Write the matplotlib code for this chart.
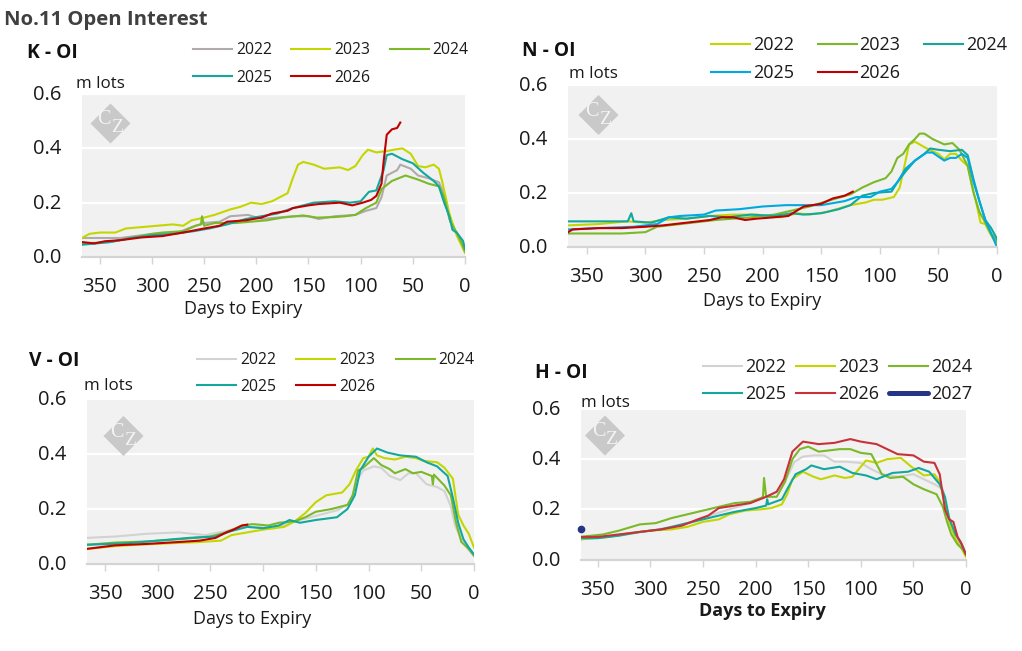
#!/usr/bin/env python3
import matplotlib
matplotlib.use('Agg')
import matplotlib.pyplot as plt
from matplotlib.patches import Polygon
from matplotlib.transforms import ScaledTranslation

plt.rcParams['font.family'] = ['Open Sans', 'DejaVu Sans']

W, H = 1022, 651

# colours
grey = '#b0aaaa'
pale = '#d2d2d2'
yellow = '#c4d600'
green = '#7ab929'
teal = '#12a89d'
blue = '#00a9e0'
red = '#c00000'
red2 = '#c8313a'
navy = '#263486'

x_ticks = [350, 300, 250, 200, 150, 100, 50, 0]
y_ticks = [0.0, 0.2, 0.4, 0.6]

# K contract
k22_d = [367,330,300,275,262,250,235,225,208,195,180,165,150,140,125,105,95,85,80,75,65,62,52,45,35,25,20,15,10,5,0]
k22_v = [.07,.07,.085,.09,.11,.125,.13,.15,.155,.14,.145,.15,.15,.14,.15,.155,.17,.18,.22,.30,.32,.34,.325,.30,.29,.275,.23,.14,.10,.07,.02]
k23_d = [367,360,350,335,325,310,295,280,270,262,250,240,225,215,205,195,185,175,170,165,160,155,145,135,120,112,105,98,93,85,75,68,60,52,45,38,30,25,22,15,8,3,0]
k23_v = [.07,.085,.09,.09,.105,.11,.115,.12,.115,.135,.145,.155,.175,.185,.20,.195,.205,.225,.235,.29,.34,.35,.34,.325,.33,.32,.335,.375,.395,.385,.39,.395,.40,.38,.335,.33,.34,.325,.28,.16,.08,.04,.015]
k24_d = [367,340,320,300,290,270,258,253,252,250,240,220,205,190,175,155,142,125,115,105,95,85,80,70,57,45,35,25,20,14,8,3,0]
k24_v = [.05,.055,.07,.085,.09,.095,.115,.12,.15,.115,.125,.125,.13,.135,.145,.153,.145,.147,.15,.155,.18,.20,.25,.28,.30,.285,.27,.26,.22,.13,.09,.05,.02]
k25_d = [367,340,320,300,280,260,245,228,210,195,180,165,145,125,110,100,92,85,78,75,70,60,50,40,30,25,20,15,12,8,2,0]
k25_v = [.045,.055,.07,.08,.085,.095,.105,.12,.14,.15,.16,.18,.20,.205,.20,.205,.24,.245,.32,.375,.38,.36,.345,.31,.28,.26,.20,.15,.10,.09,.06,.03]
k26_d = [367,355,345,330,310,290,270,250,235,228,210,195,185,170,165,150,140,120,108,98,90,85,80,78,75,70,65,62]
k26_v = [.055,.05,.058,.062,.072,.077,.09,.105,.115,.13,.135,.145,.16,.17,.18,.19,.195,.20,.19,.20,.21,.225,.27,.35,.45,.47,.475,.495]

# N contract
n22_d = [366,340,315,300,285,265,245,225,205,185,170,160,145,125,112,105,98,88,83,78,75,70,62,55,50,45,40,35,30,25,22,18,14,10,6,0]
n22_v = [.08,.085,.095,.09,.10,.105,.115,.12,.12,.11,.125,.12,.13,.155,.165,.175,.175,.185,.22,.32,.38,.39,.37,.355,.345,.325,.345,.345,.32,.30,.24,.17,.09,.085,.05,.01]
n23_d = [366,320,300,290,270,250,240,225,210,190,175,160,145,125,115,105,95,90,85,80,75,70,66,62,55,45,38,32,25,20,15,10,5,0]
n23_v = [.05,.05,.055,.075,.085,.095,.10,.105,.11,.12,.135,.15,.17,.195,.22,.24,.255,.28,.33,.345,.38,.40,.42,.42,.40,.38,.385,.36,.30,.20,.13,.09,.05,.02]
n24_d = [366,320,315,312,310,295,280,265,245,230,210,190,175,165,150,135,125,115,105,90,85,78,70,62,57,50,40,30,25,20,15,10,5,0]
n24_v = [.095,.095,.095,.125,.095,.09,.11,.105,.115,.11,.12,.115,.125,.12,.125,.14,.155,.19,.20,.205,.24,.28,.32,.345,.365,.36,.355,.36,.34,.25,.17,.10,.07,.03]
n25_d = [366,340,310,290,280,270,250,240,220,200,180,165,150,130,120,108,100,90,85,78,70,60,55,45,40,35,30,25,20,15,10,5,0]
n25_v = [.065,.07,.075,.085,.11,.115,.12,.135,.14,.15,.155,.155,.155,.17,.185,.185,.205,.215,.24,.29,.32,.35,.35,.32,.33,.33,.345,.33,.24,.17,.10,.05,.0]
n26_d = [366,362,340,320,300,285,265,245,235,225,215,205,190,178,165,150,140,130,123]
n26_v = [.055,.065,.07,.07,.075,.08,.09,.10,.11,.11,.10,.105,.11,.115,.15,.16,.18,.19,.205]

# V contract
v22_d = [367,340,310,280,255,235,220,205,190,175,160,145,130,118,110,105,95,88,80,70,62,55,45,35,28,22,18,12,5,0]
v22_v = [.095,.10,.11,.115,.105,.12,.135,.135,.13,.15,.165,.18,.195,.22,.31,.34,.355,.35,.32,.305,.33,.33,.29,.28,.265,.21,.14,.09,.05,.03]
v23_d = [367,340,320,290,260,240,230,215,200,180,170,160,150,140,125,118,112,105,100,96,92,85,75,65,55,48,35,28,20,15,10,5,0]
v23_v = [.055,.065,.07,.075,.08,.085,.105,.115,.125,.135,.155,.185,.225,.25,.26,.29,.34,.385,.39,.42,.395,.385,.38,.39,.385,.375,.37,.35,.31,.18,.14,.11,.06]
v24_d = [367,340,310,280,250,235,220,210,195,185,170,160,150,135,120,115,110,105,95,88,80,75,65,58,50,40,39,38,28,22,17,12,5,0]
v24_v = [.07,.078,.082,.09,.10,.115,.14,.145,.14,.15,.155,.17,.19,.20,.215,.25,.34,.35,.385,.36,.345,.33,.345,.33,.335,.32,.29,.325,.285,.25,.15,.08,.055,.03]
v25_d = [367,330,300,270,245,230,215,200,185,175,165,150,130,120,113,108,100,92,82,70,55,45,35,25,20,15,10,5,0]
v25_v = [.07,.075,.085,.095,.10,.12,.135,.13,.14,.16,.15,.16,.17,.20,.25,.34,.39,.42,.405,.395,.39,.37,.355,.32,.24,.15,.09,.06,.035]
v26_d = [367,340,310,280,260,245,235,228,220,215]
v26_v = [.055,.068,.073,.08,.085,.095,.115,.125,.14,.143]

# H contract
h22_d = [367,330,300,280,260,240,225,205,190,180,170,163,155,145,135,125,115,100,90,80,65,50,40,30,22,18,15,10,5,0]
h22_v = [.08,.095,.115,.13,.15,.18,.20,.225,.25,.27,.33,.39,.41,.415,.415,.39,.39,.385,.36,.34,.33,.34,.32,.30,.28,.20,.15,.09,.06,.02]
h23_d = [367,340,320,300,280,265,250,235,225,210,195,185,175,170,165,155,145,138,125,115,108,100,95,85,75,62,52,40,30,25,20,16,10,5,0]
h23_v = [.08,.09,.105,.115,.12,.13,.15,.16,.18,.195,.20,.205,.22,.26,.32,.35,.33,.32,.335,.325,.33,.37,.395,.385,.40,.405,.37,.335,.34,.31,.22,.15,.08,.05,.01]
h24_d = [367,345,330,310,295,280,260,250,235,220,205,195,193,192,190,180,172,165,158,150,140,120,110,100,90,85,80,72,60,50,40,28,22,18,14,8,3,0]
h24_v = [.09,.10,.115,.14,.145,.165,.185,.195,.21,.225,.23,.245,.25,.325,.25,.25,.31,.40,.44,.45,.43,.44,.44,.425,.42,.38,.34,.325,.33,.30,.28,.26,.21,.15,.10,.06,.04,.02]
h25_d = [367,350,330,310,290,270,250,235,220,200,190,189,188,175,170,162,152,147,135,120,108,95,85,70,55,45,35,25,20,16,10,5,0]
h25_v = [.085,.085,.095,.11,.12,.14,.16,.175,.19,.205,.215,.24,.22,.24,.28,.34,.36,.375,.36,.37,.345,.335,.32,.345,.35,.365,.35,.30,.25,.165,.10,.07,.02]
h26_d = [367,350,330,310,290,270,255,245,235,220,205,190,180,173,165,155,140,125,110,100,85,75,65,50,40,30,25,20,16,12,8,4,0]
h26_v = [.09,.09,.10,.11,.12,.135,.16,.175,.205,.215,.225,.25,.27,.32,.43,.47,.46,.465,.48,.47,.46,.44,.42,.415,.39,.385,.34,.20,.16,.15,.09,.06,.02]
h27_d = [366]
h27_v = [.12]


def fx(px):
    return px / W


def fy(py):
    return 1 - py / H


def put_text(px, py, s, **kw):
    kw.setdefault('va', 'center')
    kw.setdefault('color', '#1a1a1a')
    plt.gcf().text(fx(px), fy(py + 1.5), s, **kw)


def panel(box, xmax, series, title, title_xy, units_xy, xlabel_xy, legend_xy, legend_size,
          col_space, row_space, text_pad, wm_xy, label_weight='normal'):
    left, top, right, bottom = box
    ax = fig.add_axes([fx(left), fy(bottom), (right - left) / W, (bottom - top) / H])
    ax.set_facecolor('#f1f1f1')
    for d, v, c, lab in series:
        ax.plot(d, v, color=c, lw=1.5, label=lab, solid_joinstyle='round')
    ax.set_xlim(xmax, 0)
    ax.set_ylim(0, 0.6)
    ax.set_xticks(x_ticks)
    ax.set_yticks(y_ticks)
    ax.set_yticklabels(['%.1f' % t for t in y_ticks])
    ax.grid(axis='y', color='white', lw=1.6)
    ax.set_axisbelow(True)
    for side in ['top', 'left', 'right']:
        ax.spines[side].set_visible(False)
    ax.spines['bottom'].set_color('#d4d4d4')
    ax.spines['bottom'].set_linewidth(1.6)
    ax.tick_params(axis='x', length=5, width=1, color='#d4d4d4', labelsize=14.5, pad=9.5, labelcolor='#1a1a1a')
    ax.tick_params(axis='y', length=0, labelsize=14.5, pad=15, labelcolor='#1a1a1a')

    # y labels sit a little above their gridlines
    shift = ScaledTranslation(0, 1.5 / 100, fig.dpi_scale_trans)
    for lab in ax.get_yticklabels():
        lab.set_transform(lab.get_transform() + shift)

    # watermark
    cx, cy = wm_xy
    r = 20
    pts = [(fx(cx - r), fy(cy)), (fx(cx), fy(cy - r)), (fx(cx + r), fy(cy)), (fx(cx), fy(cy + r))]
    fig.add_artist(Polygon(pts, closed=True, transform=fig.transFigure, fc='#c9c9c9', ec='none'))
    put_text(cx - 6.6, cy - 5, 'C', family='Liberation Serif', fontsize=14.5, color='#f4f4f4', ha='center')
    put_text(cx + 6.4, cy + 3, 'Z', family='Liberation Serif', fontsize=14, color='#f4f4f4', ha='center')

    # text around the panel
    put_text(title_xy[0], title_xy[1], title, fontsize=13.9, fontweight='bold', color='#111111')
    put_text(units_xy[0], units_xy[1], 'm lots', fontsize=12.2)
    put_text(xlabel_xy[0], xlabel_xy[1], 'Days to Expiry', fontsize=13, ha='center', fontweight=label_weight)

    # matplotlib fills legend columns first, the reference fills rows first
    handles, labels = ax.get_legend_handles_labels()
    n = len(handles)
    order = [i for c in range(3) for i in range(c, n, 3)]
    leg = ax.legend([handles[i] for i in order], [labels[i] for i in order],
                    loc='upper left', bbox_to_anchor=(fx(legend_xy[0]), fy(legend_xy[1])),
                    bbox_transform=fig.transFigure, ncol=3, frameon=False, fontsize=legend_size,
                    borderpad=0, borderaxespad=0, handlelength=39 / (legend_size * 100 / 72),
                    handletextpad=text_pad, columnspacing=col_space, labelspacing=row_space)
    for t in leg.get_texts():
        t.set_color('#1a1a1a')
    return ax


fig = plt.figure(figsize=(W / 100, H / 100), dpi=100)
fig.patch.set_facecolor('white')

put_text(4, 18, 'No.11 Open Interest', fontsize=14.6, fontweight='bold', color='#404040')

panel((82, 94, 465, 257), 367,
      [(k22_d, k22_v, grey, '2022'), (k23_d, k23_v, yellow, '2023'), (k24_d, k24_v, green, '2024'),
       (k25_d, k25_v, teal, '2025'), (k26_d, k26_v, red, '2026')],
      'K - OI', (27, 51), (76, 82), (243, 308), (193, 42), 11.3, 1.24, 0.75, 0.25, (110.5, 123.5))

panel((568, 85, 997, 247), 366,
      [(n22_d, n22_v, yellow, '2022'), (n23_d, n23_v, green, '2023'), (n24_d, n24_v, teal, '2024'),
       (n25_d, n25_v, blue, '2025'), (n26_d, n26_v, red, '2026')],
      'N - OI', (522, 49), (569, 72), (762, 299), (711, 36), 13, 1.33, 0.55, 0.15, (598.5, 115))

panel((87, 399, 474, 564), 367,
      [(v22_d, v22_v, pale, '2022'), (v23_d, v23_v, yellow, '2023'), (v24_d, v24_v, green, '2024'),
       (v25_d, v25_v, teal, '2025'), (v26_d, v26_v, red, '2026')],
      'V - OI', (29, 360), (84, 384), (252, 617), (197, 352), 11.3, 1.3, 0.68, 0.25, (123.5, 436))

panel((581, 409, 966, 559.5), 366,
      [(h22_d, h22_v, pale, '2022'), (h23_d, h23_v, yellow, '2023'), (h24_d, h24_v, green, '2024'),
       (h25_d, h25_v, teal, '2025'), (h26_d, h26_v, red2, '2026'), (h27_d, h27_v, navy, '2027')],
      'H - OI', (535, 372), (581, 401.5), (762, 609), (703, 358), 13, 0.58, 0.5, 0.15, (605, 435.5), 'bold')

# the 2027 contract has a single point and a heavier legend key
ax_h = fig.axes[-1]
ax_h.lines[-1].set(marker='o', ms=4.5, clip_on=False)
ax_h.get_legend().legend_handles[-1].set(lw=3.6, solid_capstyle='round', marker='')

fig.savefig('out.png', dpi=100)
